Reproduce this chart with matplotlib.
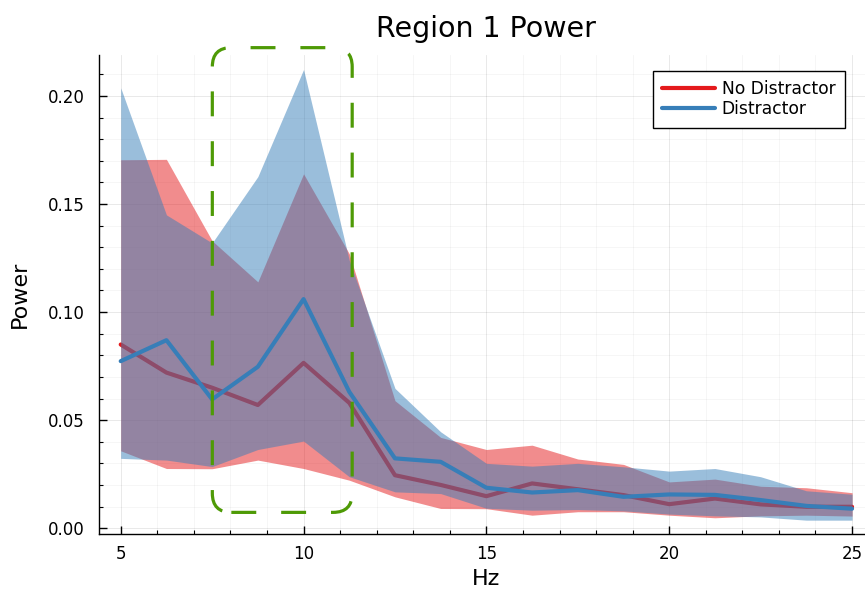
import numpy as np
import matplotlib
matplotlib.use('Agg')
import matplotlib.pyplot as plt
from matplotlib.patches import FancyBboxPatch
from matplotlib.ticker import MultipleLocator, FormatStrFormatter

# frequency bins (Hz)
hz = [5.0, 6.25, 7.5, 8.75, 10.0, 11.25, 12.5, 13.75, 15.0, 16.25,
      17.5, 18.75, 20.0, 21.25, 22.5, 23.75, 25.0]

# no distractor: mean and band
nd_mean = [0.085, 0.072, 0.065, 0.057, 0.0765, 0.058, 0.0245, 0.020, 0.0148,
           0.0207, 0.018, 0.0153, 0.0111, 0.0137, 0.011, 0.0099, 0.0099]
nd_upper = [0.1705, 0.1707, 0.133, 0.114, 0.164, 0.127, 0.059, 0.042, 0.0364,
            0.0384, 0.032, 0.0295, 0.0214, 0.0227, 0.0194, 0.0187, 0.0164]
nd_lower = [0.0358, 0.0276, 0.0275, 0.0315, 0.0276, 0.0222, 0.0145, 0.0091,
            0.009, 0.006, 0.0076, 0.0076, 0.006, 0.0048, 0.0057, 0.006, 0.0056]

# distractor: mean and band
d_mean = [0.0773, 0.087, 0.0596, 0.0747, 0.106, 0.0631, 0.0323, 0.0307, 0.0187,
          0.0165, 0.0176, 0.0145, 0.0156, 0.0154, 0.013, 0.0103, 0.009]
d_upper = [0.2038, 0.145, 0.132, 0.1627, 0.2123, 0.124, 0.0647, 0.0446, 0.030,
           0.0287, 0.030, 0.0284, 0.0264, 0.0276, 0.0238, 0.0173, 0.0157]
d_lower = [0.0323, 0.0315, 0.0285, 0.0364, 0.0403, 0.0238, 0.0168, 0.016,
           0.0092, 0.0083, 0.0086, 0.008, 0.0065, 0.0057, 0.0052, 0.0037, 0.0037]

red = '#e41a1c'
blue = '#377eb8'
green = '#4e9a06'

fig = plt.figure(figsize=(8.65, 5.92), dpi=100)
ax = fig.add_axes([0.1142, 0.098, 0.8962, 0.8091])

# each series: band first, then its mean line (second series sits on top)
ax.fill_between(hz, nd_lower, nd_upper, color=red, alpha=0.5, linewidth=0,
                zorder=2)
ax.plot(hz, nd_mean, color=red, linewidth=3, label='No Distractor', zorder=3,
        solid_capstyle='round')
ax.fill_between(hz, d_lower, d_upper, color=blue, alpha=0.5, linewidth=0,
                zorder=4)
ax.plot(hz, d_mean, color=blue, linewidth=3, label='Distractor', zorder=5,
        solid_capstyle='round')

# highlight the alpha band
box = FancyBboxPatch((7.505, 0.0073), 11.33 - 7.505, 0.2224 - 0.0073,
                     boxstyle='round,pad=0,rounding_size=0.52',
                     mutation_aspect=0.017, fill=False, edgecolor=green,
                     linewidth=2.3, linestyle=(0, (7.8, 7.8)), clip_on=False,
                     zorder=6)
ax.add_patch(box)

ax.set_xlim(4.4, 25.6)
ax.set_ylim(-0.0027, 0.219)
ax.xaxis.set_major_locator(MultipleLocator(5))
ax.xaxis.set_minor_locator(MultipleLocator(1))
ax.yaxis.set_major_locator(MultipleLocator(0.05))
ax.yaxis.set_minor_locator(MultipleLocator(0.01))
ax.yaxis.set_major_formatter(FormatStrFormatter('%.2f'))

ax.grid(which='major', color='black', alpha=0.1, linewidth=0.6)
ax.grid(which='minor', color='black', alpha=0.05, linewidth=0.5)
ax.set_axisbelow(True)

for s in ['top', 'right']:
    ax.spines[s].set_visible(False)
for s in ['left', 'bottom']:
    ax.spines[s].set_linewidth(1.0)

ax.tick_params(which='major', direction='in', length=5.5, width=1.0,
               labelsize=12)
ax.tick_params(which='minor', direction='in', length=3, width=0.8)
ax.tick_params(axis='y', which='major', pad=10)
ax.tick_params(axis='x', which='major', pad=8)

ax.set_title('Region 1 Power', fontsize=20.5, pad=13)
ax.set_xlabel('Hz', fontsize=16)
ax.set_ylabel('Power', fontsize=16, labelpad=13)

leg = ax.legend(loc='upper right', bbox_to_anchor=(845 / 865, 1 - 71 / 592),
                bbox_transform=fig.transFigure, fontsize=12.3, frameon=True,
                fancybox=False, edgecolor='black', framealpha=1,
                handlelength=3.1, handletextpad=0.4, borderaxespad=0,
                borderpad=0.55, labelspacing=0.1)
leg.get_frame().set_linewidth(1.0)
leg.set_zorder(10)

fig.savefig('out.png', dpi=100)
